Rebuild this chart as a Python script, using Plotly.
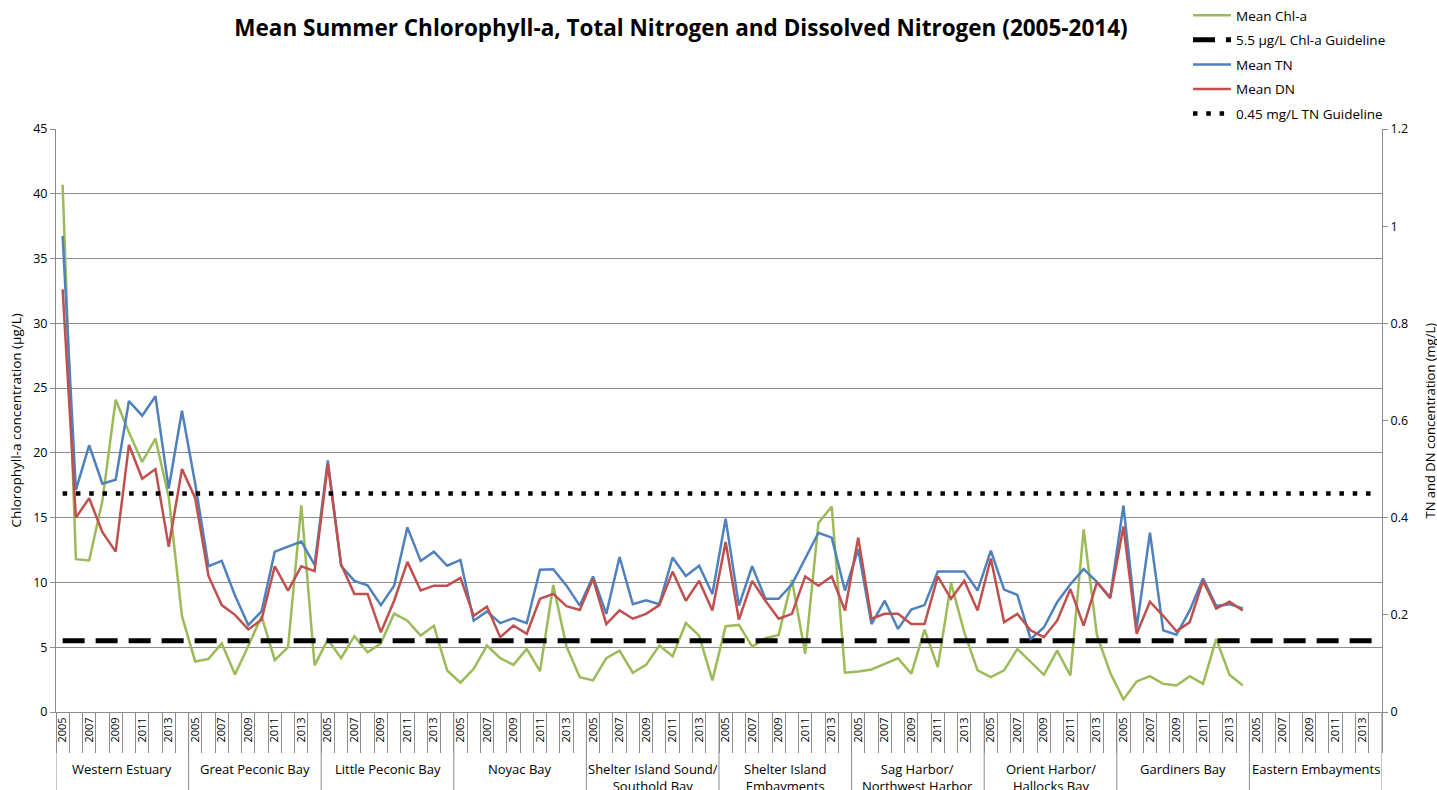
import plotly.graph_objects as go

# ---------------- data ----------------
GROUPS = ["Western Estuary", "Great Peconic Bay", "Little Peconic Bay", "Noyac Bay",
          "Shelter Island Sound/<br>Southold Bay", "Shelter Island<br>Embayments",
          "Sag Harbor/<br>Northwest Harbor", "Orient Harbor/<br>Hallocks Bay",
          "Gardiners Bay", "Eastern Embayments"]
YEARS = [2005, 2006, 2007, 2008, 2009, 2010, 2011, 2012, 2013, 2014]

# Mean Chl-a (ug/L), left axis
chl_a = [
    40.7, 11.8, 11.7, 16.3, 24.1, 21.6, 19.3, 21.1, 16.6, 7.4,      # Western Estuary
    3.9, 4.1, 5.3, 2.9, 5.1, 7.4, 4.0, 5.0, 15.95, 3.6,             # Great Peconic Bay
    5.6, 4.15, 5.85, 4.6, 5.3, 7.6, 7.05, 5.9, 6.65, 3.2,           # Little Peconic Bay
    2.26, 3.33, 5.13, 4.15, 3.64, 4.87, 3.15, 9.8, 5.05, 2.69,      # Noyac Bay
    2.44, 4.15, 4.74, 3.03, 3.64, 5.13, 4.31, 6.87, 5.9, 2.44,      # Shelter Island Sound
    6.62, 6.72, 5.05, 5.69, 5.95, 10.2, 4.49, 14.6, 15.85, 3.03,    # Shelter Island Emb.
    3.13, 3.28, 3.72, 4.15, 2.95, 6.36, 3.46, 9.95, 6.15, 3.21,     # Sag Harbor
    2.69, 3.21, 4.87, 3.85, 2.87, 4.74, 2.82, 14.1, 5.95, 3.03,     # Orient Harbor
    0.97, 2.36, 2.77, 2.18, 2.05, 2.77, 2.18, 5.64, 2.87, 2.05,     # Gardiners Bay
    None, None, None, None, None, None, None, None, None, None,     # Eastern Embayments
]

# Mean TN (mg/L), right axis
mean_tn = [
    0.98, 0.457, 0.549, 0.47, 0.478, 0.64, 0.61, 0.65, 0.46, 0.62,
    0.47, 0.30, 0.311, 0.24, 0.179, 0.207, 0.330, 0.340, 0.351, 0.303,
    0.518, 0.301, 0.270, 0.261, 0.220, 0.260, 0.380, 0.311, 0.330, 0.301,
    0.313, 0.188, 0.207, 0.183, 0.193, 0.183, 0.293, 0.294, 0.260, 0.219,
    0.279, 0.202, 0.319, 0.222, 0.230, 0.222, 0.318, 0.280, 0.301, 0.243,
    0.398, 0.219, 0.300, 0.233, 0.233, 0.263, 0.316, 0.369, 0.359, 0.250,
    0.335, 0.181, 0.229, 0.171, 0.211, 0.220, 0.289, 0.289, 0.289, 0.250,
    0.332, 0.252, 0.241, 0.150, 0.174, 0.226, 0.263, 0.294, 0.268, 0.236,
    0.425, 0.174, 0.369, 0.168, 0.159, 0.209, 0.275, 0.218, 0.222, 0.213,
    None, None, None, None, None, None, None, None, None, None,
]

# Mean DN (mg/L), right axis
mean_dn = [
    0.87, 0.40, 0.44, 0.37, 0.33, 0.55, 0.48, 0.50, 0.34, 0.50,
    0.44, 0.28, 0.22, 0.20, 0.170, 0.19, 0.30, 0.25, 0.30, 0.29,
    0.51, 0.304, 0.243, 0.243, 0.164, 0.229, 0.309, 0.25, 0.26, 0.26,
    0.276, 0.198, 0.217, 0.154, 0.178, 0.161, 0.233, 0.243, 0.218, 0.210,
    0.274, 0.181, 0.209, 0.192, 0.202, 0.220, 0.289, 0.229, 0.270, 0.209,
    0.350, 0.190, 0.270, 0.229, 0.192, 0.202, 0.279, 0.260, 0.279, 0.209,
    0.359, 0.192, 0.202, 0.202, 0.181, 0.181, 0.279, 0.233, 0.270, 0.209,
    0.316, 0.185, 0.202, 0.168, 0.154, 0.188, 0.253, 0.178, 0.267, 0.234,
    0.382, 0.161, 0.227, 0.198, 0.166, 0.185, 0.270, 0.213, 0.227, 0.209,
    None, None, None, None, None, None, None, None, None, None,
]

CHL_GUIDELINE = 5.5   # ug/L
TN_GUIDELINE = 0.45   # mg/L

# ---------------- figure ----------------
n_years = len(YEARS)
n_cat = len(GROUPS) * n_years
x = list(range(n_cat))
year_of = [YEARS[i % n_years] for i in x]

GREEN = "#9BBB59"
BLUE = "#4F81BD"
RED = "#C0504D"
GRAY = "#8C8C8C"
FONT = "'Open Sans', Lato, sans-serif"

W, H = 1437, 790
L, R, T, B = 56, 55, 129, 78
plot_w = W - L - R
plot_h = H - T - B

fig = go.Figure()
fig.add_trace(go.Scatter(x=x, y=chl_a, name="Mean Chl-a", mode="lines",
                         line=dict(color=GREEN, width=2.5), legendgroup="a"))
fig.add_trace(go.Scatter(x=x, y=[CHL_GUIDELINE] * n_cat, name="5.5 µg/L Chl-a Guideline",
                         mode="lines", line=dict(color="black", width=5, dash="22px,11px"),
                         legendgroup="b"))
fig.add_trace(go.Scatter(x=x, y=mean_tn, name="Mean TN", mode="lines",
                         line=dict(color=BLUE, width=2.5), yaxis="y2", legendgroup="c"))
fig.add_trace(go.Scatter(x=x, y=mean_dn, name="Mean DN", mode="lines",
                         line=dict(color=RED, width=2.5), yaxis="y2", legendgroup="d"))
fig.add_trace(go.Scatter(x=x, y=[TN_GUIDELINE] * n_cat, name="0.45 mg/L TN Guideline",
                         mode="lines", line=dict(color="black", width=4.5, dash="4.5px,8.8px"),
                         yaxis="y2", legendgroup="e"))

tickvals = [i for i in x if year_of[i] % 2 == 1]
ticktext = [str(year_of[i]) for i in tickvals]

shapes = []
for g in range(len(GROUPS) + 1):
    xb = g * n_years - 0.5
    shapes.append(dict(type="line", xref="x", yref="paper", x0=xb, x1=xb,
                       y0=0, y1=-80 / plot_h, line=dict(color=GRAY, width=1)))

annotations = []
for g, name in enumerate(GROUPS):
    annotations.append(dict(x=g * n_years + (n_years - 1) / 2, xref="x",
                            y=-46 / plot_h, yref="paper", yanchor="top",
                            text=name, showarrow=False,
                            font=dict(family=FONT, size=13, color="#000000")))

# axis titles
annotations.append(dict(x=(15 - L) / plot_w, xref="paper", y=0.5, yref="paper",
                        xanchor="center", yanchor="middle", textangle=-90, showarrow=False,
                        text="Chlorophyll-a concentration (µg/L)",
                        font=dict(family=FONT, size=13.5, color="#000000")))
annotations.append(dict(x=(1429 - L) / plot_w, xref="paper", y=0.5, yref="paper",
                        xanchor="center", yanchor="middle", textangle=-90, showarrow=False,
                        text="TN and DN concentration (mg/L)",
                        font=dict(family=FONT, size=13, color="#000000")))

fig.update_layout(
    width=W, height=H,
    margin=dict(l=L, r=R, t=T, b=B, autoexpand=False),
    paper_bgcolor="white", plot_bgcolor="white",
    font=dict(family=FONT, color="#000000"),
    title=dict(text="<b>Mean Summer Chlorophyll-a, Total Nitrogen and Dissolved Nitrogen (2005-2014)</b>",
               x=681 / W, xanchor="center", y=1 - 28 / H, yanchor="middle", yref="container",
               font=dict(family=FONT, size=22.5, color="#000000")),
    showlegend=True,
    legend=dict(x=1188 / W, xref="container", xanchor="left",
                y=1, yref="container", yanchor="top",
                font=dict(family=FONT, size=13.5, color="#000000"),
                bgcolor="rgba(0,0,0,0)", tracegroupgap=4, itemwidth=38),
    xaxis=dict(range=[-0.5, n_cat - 0.5], tickmode="array", tickvals=tickvals,
               ticktext=ticktext, tickangle=-90, ticks="", automargin=False,
               tickfont=dict(family=FONT, size=11, color="#000000"),
               showgrid=False, zeroline=False, showline=True, linecolor=GRAY, linewidth=1,
               minor=dict(tickmode="array", tickvals=[i - 0.5 for i in range(n_cat + 1)],
                          ticks="outside", ticklen=40, tickcolor=GRAY, tickwidth=1,
                          showgrid=False)),
    yaxis=dict(range=[0, 45], dtick=5, tick0=0, showgrid=True, gridcolor=GRAY, gridwidth=1,
               zeroline=False, showline=True, linecolor=GRAY, linewidth=1, automargin=False,
               ticks="outside", ticklen=5, tickcolor=GRAY,
               tickfont=dict(family=FONT, size=12.5, color="#000000")),
    yaxis2=dict(range=[0, 1.2], dtick=0.2, tick0=0, overlaying="y", side="right",
                showgrid=False, zeroline=False, showline=True, linecolor=GRAY, linewidth=1,
                automargin=False, ticks="outside", ticklen=5, tickcolor=GRAY,
                tickfont=dict(family=FONT, size=12.5, color="#000000")),
    shapes=shapes,
    annotations=annotations,
)

fig.write_html("out.html",
               config={"displayModeBar": False},
               post_script="document.body.style.margin='0px';"
                           "document.body.style.overflow='hidden';")
